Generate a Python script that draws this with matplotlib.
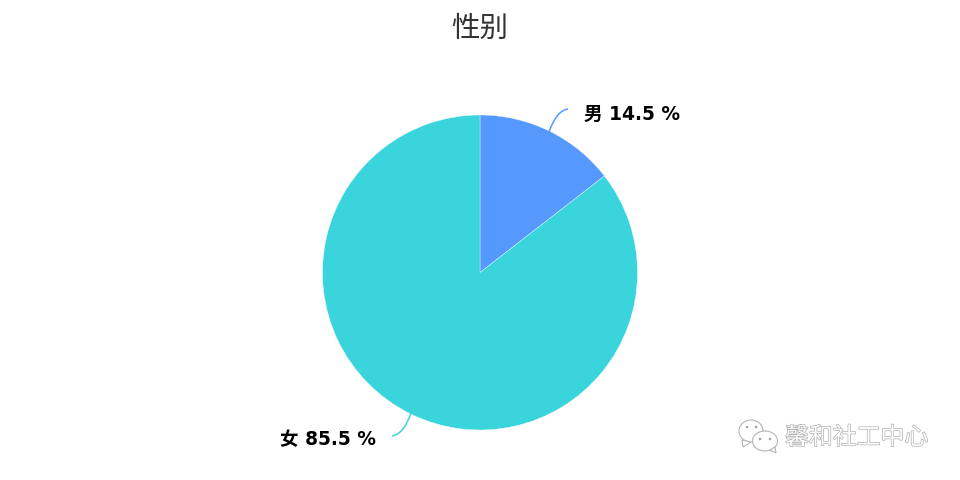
import matplotlib
matplotlib.use('Agg')
import matplotlib.pyplot as plt
import matplotlib.patheffects as pe
from matplotlib.patches import Ellipse, PathPatch, Polygon
from matplotlib.path import Path

plt.rcParams['font.family'] = ['DejaVu Sans', 'Noto Sans CJK SC']

title = '性别'
categories = ['男', '女']
values = [14.5, 85.5]
colors = ['#5599FF', '#3AD4DC']
watermark = '馨和社工中心'

W, H = 960, 480
fig = plt.figure(figsize=(9.6, 4.8), dpi=100, facecolor='white')
ax = fig.add_axes([0, 0, 1, 1])

# pie, clockwise from 12 o'clock
ax.pie(values, colors=colors, startangle=90, counterclock=False,
       center=(480, H - 272.5), radius=157.5,
       wedgeprops={'edgecolor': 'white', 'linewidth': 0.25}, frame=True)
ax.set_xlim(0, W)
ax.set_ylim(0, H)
ax.set_aspect('equal')
ax.axis('off')


def leader(x0, y0, cx, cy, x1, y1, color):
    # curved label line, given in picture pixels
    p = Path([(x0, H - y0), (cx, H - cy), (x1, H - y1)],
             [Path.MOVETO, Path.CURVE3, Path.CURVE3])
    ax.add_patch(PathPatch(p, fc='none', ec=color, lw=1.1))


leader(549, 132, 556, 111, 568, 109, colors[0])
leader(411, 413, 404, 434, 392, 436, colors[1])

ax.text(480, H - 29, title, ha='center', va='center', fontsize=20.5,
        color='#333333', family=['Noto Sans CJK SC', 'DejaVu Sans'])
ax.text(584, H - 114.5, f'{categories[0]} {values[0]} %', ha='left', va='center',
        fontsize=13.4, fontweight='bold', color='black')
ax.text(280, H - 439.5, f'{categories[1]} {values[1]} %', ha='left', va='center',
        fontsize=13.4, fontweight='bold', color='black')

# watermark, white text with a soft grey outline
ax.text(785, H - 438, watermark, ha='left', va='center', fontsize=17.2,
        color='white', family=['Noto Sans CJK SC', 'DejaVu Sans'],
        path_effects=[pe.withStroke(linewidth=0.9, foreground='#A8A8A8')])

# chat bubbles next to the watermark
ax.add_patch(Ellipse((751, H - 431), 24, 22, fc='white', ec='#B5B5B5', lw=0.8))
ax.add_patch(Polygon([(742, H - 440), (743, H - 447), (751, H - 442)],
                     closed=True, fc='white', ec='#B5B5B5', lw=0.8))
ax.add_patch(Ellipse((765, H - 441), 25, 20, fc='white', ec='#B5B5B5', lw=0.8))
ax.add_patch(Polygon([(770, H - 450), (776, H - 453), (775, H - 447)],
                     closed=True, fc='white', ec='#B5B5B5', lw=0.8))
for x, y in [(747, 427), (756, 427), (760, 439), (770, 439)]:
    ax.add_patch(Ellipse((x, H - y), 2.5, 2.5, fc='#A0A0A0', ec='none'))

fig.savefig('out.png', dpi=100)
